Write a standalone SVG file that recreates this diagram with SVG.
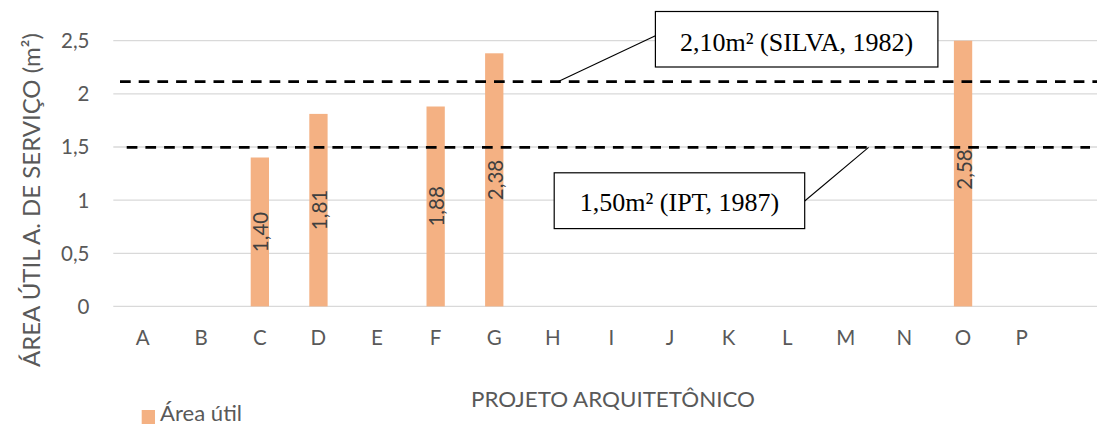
<svg xmlns="http://www.w3.org/2000/svg" width="1097" height="425" viewBox="0 0 1097 425">
<style>
.grid{stroke:#D9D9D9;stroke-width:1.3;fill:none}
.tick{font-family:Lato,"Liberation Sans",sans-serif;font-size:20.5px;fill:#595959}
.val{font-family:Lato,"Liberation Sans",sans-serif;font-size:20.5px;fill:#404040;text-anchor:middle}
.bar{fill:#F4B183}
.ref{stroke:#000;stroke-width:2.7;stroke-dasharray:10.7 8;fill:none}
.box{fill:#fff;stroke:#000;stroke-width:1.2}
.lbl{font-family:"Liberation Serif","Times New Roman",serif;font-size:26px;fill:#000;text-anchor:middle}
.lead{stroke:#000;stroke-width:1.1;fill:none}
</style>
<rect width="1097" height="425" fill="#fff"/>
<g id="gridlines">
<line class="grid" x1="113.3" y1="40.7" x2="1097" y2="40.7"/>
<line class="grid" x1="113.3" y1="93.8" x2="1097" y2="93.8"/>
<line class="grid" x1="113.3" y1="147" x2="1097" y2="147"/>
<line class="grid" x1="113.3" y1="200.2" x2="1097" y2="200.2"/>
<line class="grid" x1="113.3" y1="253.3" x2="1097" y2="253.3"/>
<line class="grid" x1="113.3" y1="306.4" x2="1097" y2="306.4"/>
</g>
<g id="y-ticks" class="tick" text-anchor="end">
<text x="89.5" y="48">2,5</text>
<text x="89.5" y="101.1">2</text>
<text x="89.5" y="154.3">1,5</text>
<text x="89.5" y="207.5">1</text>
<text x="89.5" y="260.6">0,5</text>
<text x="89.5" y="313.7">0</text>
</g>
<g id="x-ticks" class="tick" text-anchor="middle">
<text x="142.6" y="345">A</text>
<text x="201.2" y="345">B</text>
<text x="259.8" y="345">C</text>
<text x="318.4" y="345">D</text>
<text x="377" y="345">E</text>
<text x="435.6" y="345">F</text>
<text x="494.2" y="345">G</text>
<text x="552.8" y="345">H</text>
<text x="611.4" y="345">I</text>
<text x="670" y="345">J</text>
<text x="728.6" y="345">K</text>
<text x="787.2" y="345">L</text>
<text x="845.8" y="345">M</text>
<text x="904.4" y="345">N</text>
<text x="963" y="345">O</text>
<text x="1021.6" y="345">P</text>
</g>
<g id="bar-C"><rect class="bar" x="250.7" y="157.5" width="18.3" height="148.9"/><text class="val" transform="translate(268.3,232) rotate(-90)">1,40</text></g>
<g id="bar-D"><rect class="bar" x="309.3" y="113.9" width="18.3" height="192.5"/><text class="val" transform="translate(326.9,210) rotate(-90)">1,81</text></g>
<g id="bar-F"><rect class="bar" x="426.5" y="106.5" width="18.3" height="199.9"/><text class="val" transform="translate(444.1,206.4) rotate(-90)">1,88</text></g>
<g id="bar-G"><rect class="bar" x="485.1" y="53.3" width="18.3" height="253.1"/><text class="val" transform="translate(502.7,180) rotate(-90)">2,38</text></g>
<g id="bar-O"><rect class="bar" x="953.9" y="40.7" width="18.3" height="265.7"/><text class="val" transform="translate(971.5,169.5) rotate(-90)">2,58</text></g>
<g id="connectors">
<line class="ref" x1="120" y1="81.7" x2="1097" y2="81.7"/>
<line class="ref" x1="126.7" y1="147.3" x2="1090" y2="147.3"/>
<line class="lead" x1="557.8" y1="81.7" x2="655.4" y2="35.7"/>
<line class="lead" x1="868.6" y1="147.3" x2="804.7" y2="201"/>
</g>
<g id="label-silva"><rect class="box" x="655.4" y="11.5" width="282.5" height="55.5"/><text class="lbl" x="796.6" y="50.5">2,10m² (SILVA, 1982)</text></g>
<g id="label-ipt"><rect class="box" x="554.2" y="172.8" width="250.5" height="55.8"/><text class="lbl" x="679.5" y="210.5">1,50m² (IPT, 1987)</text></g>
<g id="y-title"><text class="tick" text-anchor="middle" transform="translate(39.5,200) rotate(-90)" style="font-size:23.7px" textLength="334" lengthAdjust="spacingAndGlyphs">ÁREA ÚTIL A. DE SERVIÇO (m²)</text></g>
<g id="x-title"><text class="tick" x="613" y="407.3" text-anchor="middle" textLength="284" lengthAdjust="spacingAndGlyphs">PROJETO ARQUITETÔNICO</text></g>
<g id="legend"><rect class="bar" x="141.7" y="410" width="13.3" height="14"/><text class="tick" x="160" y="420.5" textLength="82" lengthAdjust="spacingAndGlyphs">Área útil</text></g>
</svg>
